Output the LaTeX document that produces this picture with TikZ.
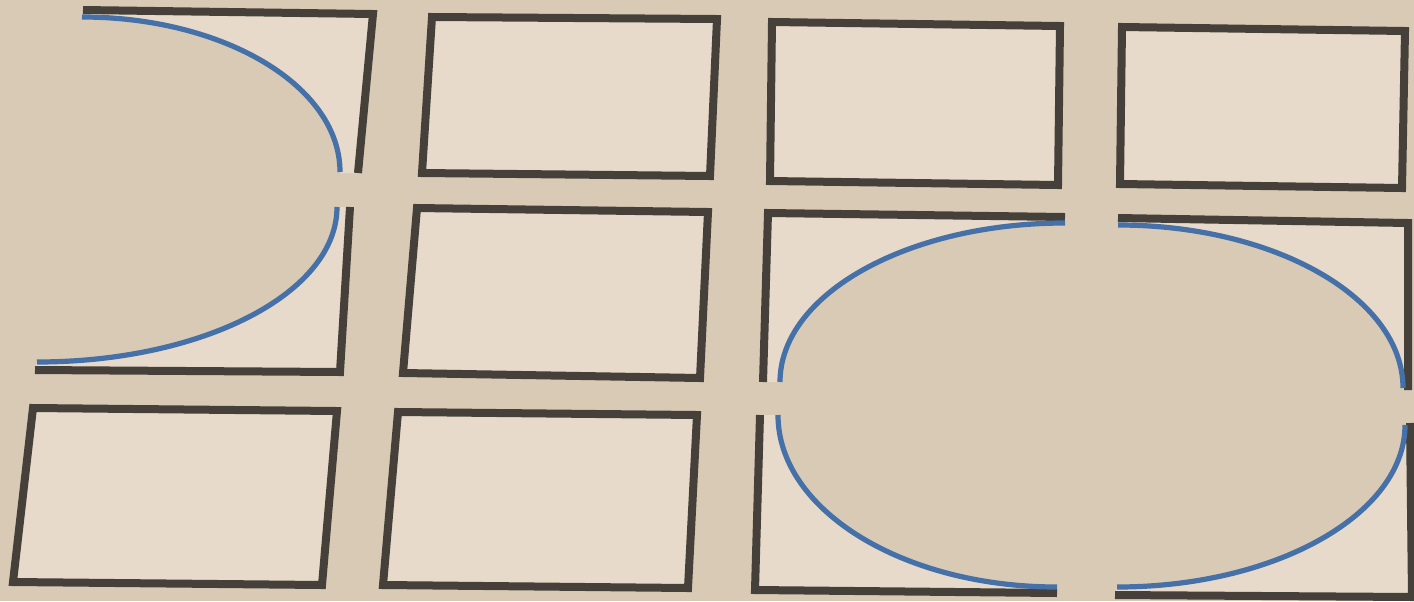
\documentclass[tikz,border=0pt]{standalone}
\definecolor{bg}{HTML}{D9CAB6}
\definecolor{paper}{HTML}{E7DACA}
\definecolor{frame}{HTML}{45403A}
\definecolor{arcblue}{HTML}{4570A8}
\tikzset{
  frameline/.style={draw=frame,line width=4pt,line join=miter},
  arcline/.style={draw=arcblue,line width=2.6pt},
  paperfill/.style={fill=paper}
}
\begin{document}
\begin{tikzpicture}[x=0.5pt,y=-0.5pt]
\useasboundingbox (0,0) rectangle (1414,601);
\fill[bg] (0,0) rectangle (1414,601);
% plain rectangles
\path[paperfill,frameline] (432,17) -- (717,19) -- (710,176) -- (422,173) -- cycle;
\path[paperfill,frameline] (772,22) -- (1060,26) -- (1058,185) -- (770,181) -- cycle;
\path[paperfill,frameline] (1122,27) -- (1405,31) -- (1402,188) -- (1120,184) -- cycle;
\path[paperfill,frameline] (417,208) -- (708,212) -- (700,378) -- (403,373) -- cycle;
\path[paperfill,frameline] (33,408) -- (337,411) -- (322,585) -- (13,582) -- cycle;
\path[paperfill,frameline] (398,412) -- (697,415) -- (688,588) -- (383,585) -- cycle;
% half ellipse, column 1
\fill[paper] (83,10) -- (373,14) -- (358,173) -- (340,173) .. controls (340,86) and (224,17) .. (82,17) -- cycle;
\draw[frameline] (83,10) -- (373,14) -- (358,173);
\draw[arcline] (82,17) .. controls (224,17) and (340,86) .. (340,172);
\fill[paper] (350,207) -- (340,372) -- (35,370) -- (37,362) .. controls (203,362) and (337,293) .. (337,207) -- cycle;
\draw[frameline] (350,207) -- (340,372) -- (35,370);
\draw[arcline] (37,362) .. controls (203,362) and (337,293) .. (337,207);
% full ellipse, columns 3-4
\fill[paper] (1065,217) -- (768,213) -- (763,382) -- (780,382) .. controls (780,294) and (908,223) .. (1065,223) -- cycle;
\draw[frameline] (1065,217) -- (768,213) -- (763,382);
\draw[arcline] (1065,223) .. controls (908,223) and (780,294) .. (780,382);
\fill[paper] (1118,218) -- (1408,223) -- (1408,390) -- (1403,388) .. controls (1403,298) and (1275,225) .. (1118,225) -- cycle;
\draw[frameline] (1118,218) -- (1408,223) -- (1408,390);
\draw[arcline] (1118,225) .. controls (1275,225) and (1403,298) .. (1403,388);
\fill[paper] (760,415) -- (755,590) -- (1057,593) -- (1057,587) .. controls (903,587) and (778,510) .. (778,415) -- cycle;
\draw[frameline] (760,415) -- (755,590) -- (1057,593);
\draw[arcline] (1057,587) .. controls (903,587) and (778,510) .. (778,415);
\fill[paper] (1115,595) -- (1412,597) -- (1410,423) -- (1405,425) .. controls (1405,514) and (1276,587) .. (1117,587) -- cycle;
\draw[frameline] (1115,595) -- (1412,597) -- (1410,423);
\draw[arcline] (1117,587) .. controls (1276,587) and (1405,514) .. (1405,425);
\end{tikzpicture}
\end{document}
